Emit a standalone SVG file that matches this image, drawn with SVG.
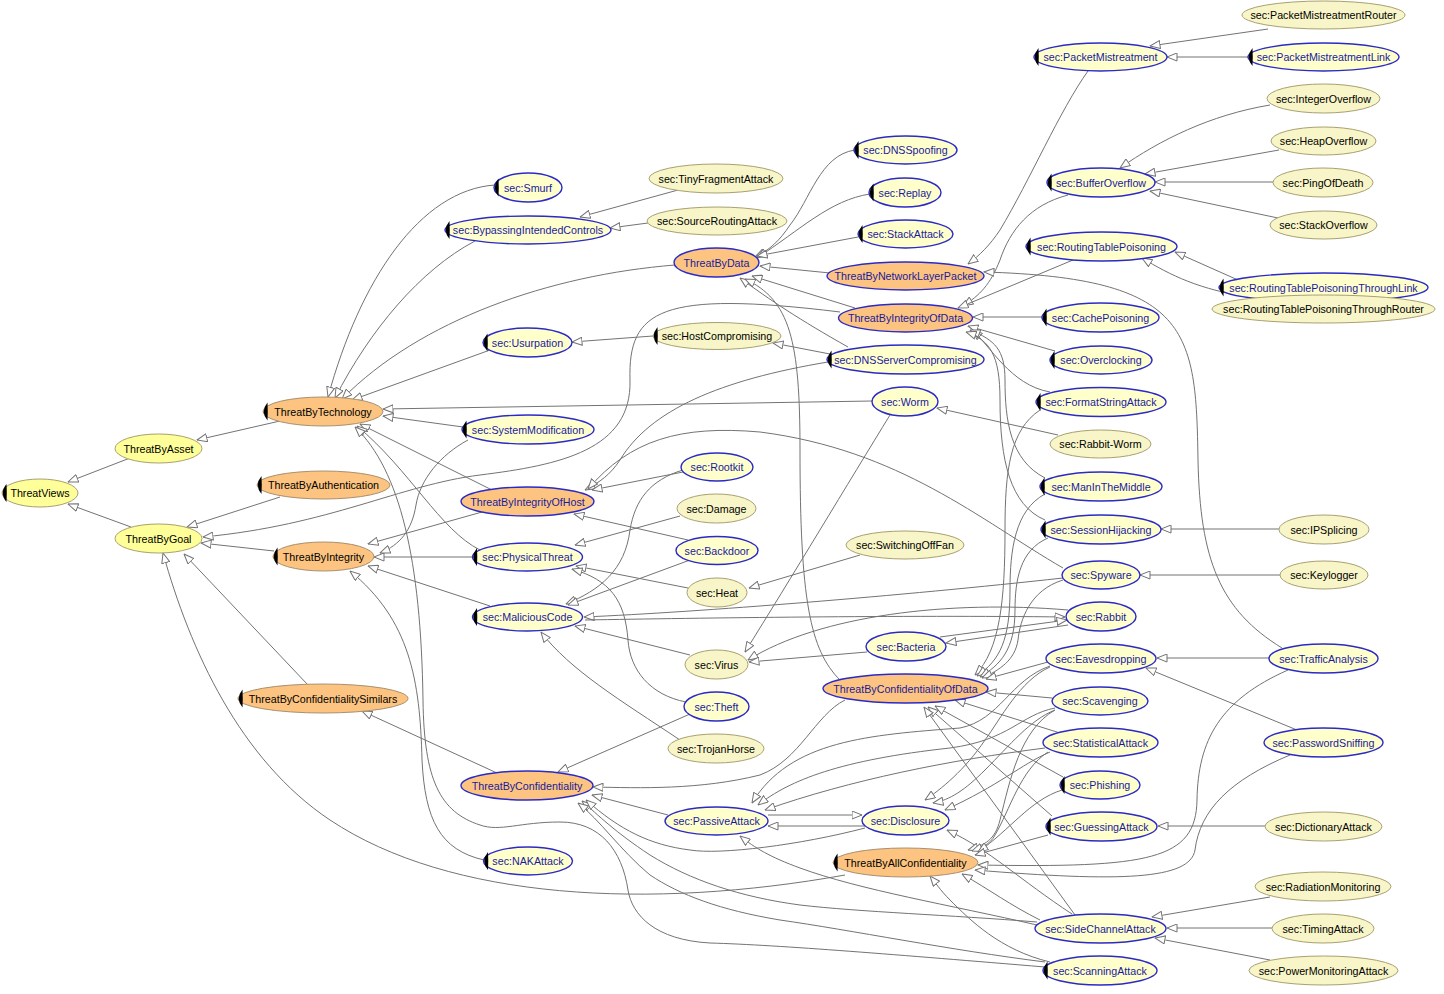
<svg xmlns="http://www.w3.org/2000/svg" width="1444" height="994" viewBox="0 0 1444 994">
<style>
text{font-family:"Liberation Sans",Arial,sans-serif;font-size:10.7px;text-anchor:middle}
.cy ellipse{fill:#ffff99;stroke:#a8a070;stroke-width:1}
.co ellipse{fill:#fcc480;stroke:#a89070;stroke-width:1}
.bo ellipse{fill:#fcc480;stroke:#2a2ac8;stroke-width:1.4}
.bi ellipse{fill:#ffffcc;stroke:#2a2ac8;stroke-width:1.4}
.oi ellipse{fill:#f8f6c8;stroke:#a8a070;stroke-width:1}
.cy text,.co text,.oi text{fill:#000}
.bo text,.bi text{fill:#1a1a9c}
.m{fill:#000}
#edges path{fill:none;stroke:#737373;stroke-width:1;marker-end:url(#a)}
</style>
<defs>
<marker id="a" viewBox="0 0 11 9" refX="10.5" refY="4.5" markerWidth="11" markerHeight="9" markerUnits="userSpaceOnUse" orient="auto">
<path d="M0.5,0.5 L10.5,4.5 L0.5,8.5 Z" fill="#fff" stroke="#737373" stroke-width="1"/>
</marker>
</defs>
<rect width="1444" height="994" fill="#fff"/>
<g id="edges">
<path d="M130 458 L68 482"/>
<path d="M131 527 L68 504"/>
<path d="M280 421 L197 440"/>
<path d="M280 497 L187 527"/>
<path d="M274 551 L201 543"/>
<path d="M840 312 C660 290 628 310 630 380 C632 450 560 465 480 475 C400 485 330 525 203 537"/>
<path d="M308 685 L184 554"/>
<path d="M845 875 C650 910 450 900 330 820 C240 760 190 650 163 553"/>
<path d="M495 185 C420 190 360 280 328 397"/>
<path d="M475 241 C420 270 370 330 335 398"/>
<path d="M675 265 C550 275 420 320 342 399"/>
<path d="M490 350 L352 400"/>
<path d="M872 401 L383 409"/>
<path d="M463 427 L383 416"/>
<path d="M492 490 L360 424"/>
<path d="M480 550 C440 530 410 470 357 426"/>
<path d="M1045 967 C900 955 780 945 710 943 C655 940 632 915 628 890 C622 850 600 822 560 822 C520 822 500 832 480 825 C440 812 424 780 423 700 C421 560 400 470 355 427"/>
<path d="M484 860 C440 850 425 820 422 760 C420 680 410 620 350 571"/>
<path d="M482 512 L368 544"/>
<path d="M472 557 L374 557"/>
<path d="M490 606 L368 566"/>
<path d="M468 440 C440 455 420 480 416 505 C412 530 400 545 380 553"/>
<path d="M653 336 L572 342"/>
<path d="M830 354 L773 343"/>
<path d="M848 347 C800 320 770 300 740 278"/>
<path d="M828 362 C720 380 650 410 620 460 C610 475 600 482 585 490"/>
<path d="M678 190 L580 217"/>
<path d="M648 223 L610 228"/>
<path d="M830 273 L760 266"/>
<path d="M855 308 L752 276"/>
<path d="M855 150 C820 155 810 200 790 225 C780 240 770 250 755 257"/>
<path d="M870 194 C830 200 800 230 757 258"/>
<path d="M858 237 L757 256"/>
<path d="M840 680 C810 650 800 600 800 450 C800 340 790 300 745 279"/>
<path d="M1268 29 L1150 46"/>
<path d="M1249 57 L1167 57"/>
<path d="M1088 71 C1060 110 1030 180 1000 230 C990 245 980 255 968 264"/>
<path d="M1270 105 C1210 115 1160 140 1120 168"/>
<path d="M1279 150 L1145 174"/>
<path d="M1273 182 L1155 182"/>
<path d="M1278 218 L1150 191"/>
<path d="M1068 195 C1030 205 1010 230 1000 260 C990 285 980 295 963 306"/>
<path d="M1238 280 L1175 252"/>
<path d="M1250 297 C1200 290 1170 275 1142 258"/>
<path d="M1073 260 L958 308"/>
<path d="M1042 317 L973 317"/>
<path d="M1055 351 L968 326"/>
<path d="M1050 392 C1010 385 990 345 972 330"/>
<path d="M1045 478 C1010 460 1005 420 1005 380 C1005 350 995 340 970 330"/>
<path d="M1045 520 C1010 505 1000 460 1000 400 C1000 355 990 340 966 332"/>
<path d="M1279 529 L1161 529"/>
<path d="M1280 575 L1140 575"/>
<path d="M1058 435 L937 408"/>
<path d="M1282 648 C1220 610 1200 560 1198 460 C1196 330 1190 278 984 272"/>
<path d="M1040 410 C1010 430 1005 470 1005 530 C1005 600 1000 650 975 675"/>
<path d="M1045 494 C1015 510 1010 550 1010 590 C1010 640 1000 660 977 676"/>
<path d="M1048 538 C1020 550 1015 580 1015 610 C1015 650 1000 665 980 677"/>
<path d="M1063 580 C1030 590 1020 620 1018 640 C1015 660 1000 670 982 678"/>
<path d="M1048 662 L986 679"/>
<path d="M1052 698 L986 692"/>
<path d="M1060 733 L955 700"/>
<path d="M1063 777 L935 706"/>
<path d="M1052 816 L928 707"/>
<path d="M1075 915 L924 707"/>
<path d="M1072 914 C1020 880 990 850 947 830"/>
<path d="M768 815 L862 815"/>
<path d="M865 826 L768 826"/>
<path d="M1050 666 C1010 680 1000 720 960 728 C870 735 790 740 752 803"/>
<path d="M1055 708 C1020 715 1010 740 950 748 C840 760 790 780 758 805"/>
<path d="M1045 748 C950 760 850 780 765 810"/>
<path d="M1050 667 C1020 680 1000 720 985 740 C965 770 940 790 925 800"/>
<path d="M1055 710 C1030 720 1010 745 985 770 C965 790 950 800 933 803"/>
<path d="M1050 752 C1020 765 1000 785 945 810"/>
<path d="M1055 710 C1020 730 1010 780 1000 820 C995 840 985 845 968 850"/>
<path d="M1048 752 C1020 770 1010 810 995 835 C990 845 980 848 972 851"/>
<path d="M1062 790 C1030 800 1010 830 978 852"/>
<path d="M1048 835 L975 855"/>
<path d="M1288 670 C1220 700 1198 740 1197 800 C1196 860 1150 868 978 865"/>
<path d="M1290 755 C1230 780 1200 810 1195 850 C1190 880 1120 882 975 870"/>
<path d="M1040 920 C1010 905 990 890 962 874"/>
<path d="M1050 962 C1000 950 970 920 950 900 C940 890 935 882 930 876"/>
<path d="M1037 925 C950 905 860 890 800 868 C770 857 755 848 740 836"/>
<path d="M1037 922 C950 915 860 912 800 905 C740 897 690 880 650 855 C615 832 598 815 582 801"/>
<path d="M1045 962 C950 950 850 930 780 920 C720 910 680 895 650 875 C620 850 600 820 578 803"/>
<path d="M865 828 C800 845 720 855 690 850 C650 845 620 830 586 800"/>
<path d="M845 700 C815 715 800 760 760 775 C700 790 640 788 593 787"/>
<path d="M668 815 L592 795"/>
<path d="M690 714 L558 772"/>
<path d="M497 773 L362 711"/>
<path d="M683 472 L592 490"/>
<path d="M688 540 L574 514"/>
<path d="M1063 568 C980 520 900 450 760 432 C680 425 630 440 588 489"/>
<path d="M683 470 C650 480 635 500 630 530 C625 570 600 590 566 604"/>
<path d="M690 560 L568 605"/>
<path d="M680 516 L575 545"/>
<path d="M688 588 L576 566"/>
<path d="M860 555 L749 588"/>
<path d="M686 702 C650 695 630 670 628 640 C625 600 610 580 572 569"/>
<path d="M690 655 L575 626"/>
<path d="M680 740 C620 700 570 670 541 632"/>
<path d="M1063 578 C900 596 700 612 584 617"/>
<path d="M585 620 C700 618 900 615 1065 617"/>
<path d="M890 415 C850 480 790 580 745 652"/>
<path d="M1068 610 C950 600 820 615 748 660"/>
<path d="M867 652 L749 662"/>
<path d="M940 637 L1067 620"/>
<path d="M1068 625 L946 643"/>
<path d="M1269 658 L1157 658"/>
<path d="M1297 730 L1146 668"/>
<path d="M1265 826 L1158 826"/>
<path d="M1270 897 L1152 917"/>
<path d="M1272 928 L1167 928"/>
<path d="M1270 960 L1155 938"/>
</g>
<g id="n1" class="cy"><ellipse cx="40" cy="493" rx="38" ry="14"/><path class="m" d="M6.5 484 Q-1 493 6.5 502 Q7 493 6.5 484 Z"/><text x="40" y="497">ThreatViews</text></g>
<g id="n2" class="cy"><ellipse cx="158.5" cy="448.5" rx="43.5" ry="14.5"/><text x="158.5" y="452.5">ThreatByAsset</text></g>
<g id="n3" class="cy"><ellipse cx="158.5" cy="538.5" rx="43.5" ry="14.5"/><text x="158.5" y="542.5">ThreatByGoal</text></g>
<g id="n4" class="co"><ellipse cx="323" cy="411.5" rx="60" ry="14.5"/><path class="m" d="M267.5 402.5 Q260 411.5 267.5 420.5 Q268 411.5 267.5 402.5 Z"/><text x="323" y="415.5">ThreatByTechnology</text></g>
<g id="n5" class="co"><ellipse cx="323.5" cy="485" rx="66.5" ry="14"/><path class="m" d="M261.5 476 Q254 485 261.5 494 Q262 485 261.5 476 Z"/><text x="323.5" y="489">ThreatByAuthentication</text></g>
<g id="n6" class="co"><ellipse cx="323.5" cy="556.5" rx="50.5" ry="14.5"/><path class="m" d="M277.5 547.5 Q270 556.5 277.5 565.5 Q278 556.5 277.5 547.5 Z"/><text x="323.5" y="560.5">ThreatByIntegrity</text></g>
<g id="n7" class="co"><ellipse cx="323" cy="698.5" rx="85" ry="14.5"/><path class="m" d="M242.5 689.5 Q235 698.5 242.5 707.5 Q243 698.5 242.5 689.5 Z"/><text x="323" y="702.5">ThreatByConfidentialitySimilars</text></g>
<g id="n8" class="bo"><ellipse cx="527" cy="785.5" rx="66" ry="14.5"/><text x="527" y="789.5">ThreatByConfidentiality</text></g>
<g id="n9" class="bi"><ellipse cx="528" cy="861" rx="44.5" ry="14"/><path class="m" d="M488 852 Q480.5 861 488 870 Q488.5 861 488 852 Z"/><text x="528" y="865">sec:NAKAttack</text></g>
<g id="n10" class="bi"><ellipse cx="528" cy="187.5" rx="34" ry="14.5"/><path class="m" d="M498.5 178.5 Q491 187.5 498.5 196.5 Q499 187.5 498.5 178.5 Z"/><text x="528" y="191.5">sec:Smurf</text></g>
<g id="n11" class="bi"><ellipse cx="528" cy="230" rx="83" ry="14"/><path class="m" d="M449.5 221 Q442 230 449.5 239 Q450 230 449.5 221 Z"/><text x="528" y="234">sec:BypassingIntendedControls</text></g>
<g id="n12" class="bi"><ellipse cx="527.5" cy="342.5" rx="44.5" ry="14.5"/><path class="m" d="M487.5 333.5 Q480 342.5 487.5 351.5 Q488 342.5 487.5 333.5 Z"/><text x="527.5" y="346.5">sec:Usurpation</text></g>
<g id="n13" class="bi"><ellipse cx="528" cy="429.5" rx="66" ry="14.5"/><path class="m" d="M466.5 420.5 Q459 429.5 466.5 438.5 Q467 429.5 466.5 420.5 Z"/><text x="528" y="433.5">sec:SystemModification</text></g>
<g id="n14" class="bo"><ellipse cx="527.5" cy="501.5" rx="66.5" ry="14.5"/><text x="527.5" y="505.5">ThreatByIntegrityOfHost</text></g>
<g id="n15" class="bi"><ellipse cx="527.5" cy="557" rx="55" ry="14"/><path class="m" d="M477 548 Q469.5 557 477 566 Q477.5 557 477 548 Z"/><text x="527.5" y="561">sec:PhysicalThreat</text></g>
<g id="n16" class="bi"><ellipse cx="527.5" cy="617" rx="55" ry="14"/><path class="m" d="M477 608 Q469.5 617 477 626 Q477.5 617 477 608 Z"/><text x="527.5" y="621">sec:MaliciousCode</text></g>
<g id="n17" class="oi"><ellipse cx="716" cy="178.5" rx="67" ry="14.5"/><text x="716" y="182.5">sec:TinyFragmentAttack</text></g>
<g id="n18" class="oi"><ellipse cx="717" cy="221" rx="70" ry="14"/><text x="717" y="225">sec:SourceRoutingAttack</text></g>
<g id="n19" class="bo"><ellipse cx="716.5" cy="262.5" rx="42.5" ry="14.5"/><text x="716.5" y="266.5">ThreatByData</text></g>
<g id="n20" class="oi"><ellipse cx="717" cy="336" rx="64" ry="13.5"/><path class="m" d="M657.5 327 Q650 336 657.5 345 Q658 336 657.5 327 Z"/><text x="717" y="340">sec:HostCompromising</text></g>
<g id="n21" class="bi"><ellipse cx="717" cy="467" rx="36" ry="14"/><text x="717" y="471">sec:Rootkit</text></g>
<g id="n22" class="oi"><ellipse cx="716.5" cy="508.5" rx="39.5" ry="14.5"/><text x="716.5" y="512.5">sec:Damage</text></g>
<g id="n23" class="bi"><ellipse cx="717" cy="550.5" rx="41" ry="14"/><text x="717" y="554.5">sec:Backdoor</text></g>
<g id="n24" class="oi"><ellipse cx="717" cy="592.5" rx="30" ry="14.5"/><text x="717" y="596.5">sec:Heat</text></g>
<g id="n25" class="oi"><ellipse cx="716.5" cy="664.5" rx="31.5" ry="14.5"/><text x="716.5" y="668.5">sec:Virus</text></g>
<g id="n26" class="bi"><ellipse cx="716.5" cy="706.5" rx="32.5" ry="14.5"/><text x="716.5" y="710.5">sec:Theft</text></g>
<g id="n27" class="oi"><ellipse cx="716" cy="748.5" rx="48" ry="14.5"/><text x="716" y="752.5">sec:TrojanHorse</text></g>
<g id="n28" class="bi"><ellipse cx="716.5" cy="821" rx="51.5" ry="14"/><text x="716.5" y="825">sec:PassiveAttack</text></g>
<g id="n29" class="bi"><ellipse cx="905.5" cy="150" rx="51.5" ry="14"/><path class="m" d="M858.5 141 Q851 150 858.5 159 Q859 150 858.5 141 Z"/><text x="905.5" y="154">sec:DNSSpoofing</text></g>
<g id="n30" class="bi"><ellipse cx="905" cy="192.5" rx="36" ry="14.5"/><path class="m" d="M873.5 183.5 Q866 192.5 873.5 201.5 Q874 192.5 873.5 183.5 Z"/><text x="905" y="196.5">sec:Replay</text></g>
<g id="n31" class="bi"><ellipse cx="905.5" cy="234" rx="47.5" ry="14"/><path class="m" d="M862.5 225 Q855 234 862.5 243 Q863 234 862.5 225 Z"/><text x="905.5" y="238">sec:StackAttack</text></g>
<g id="n32" class="bo"><ellipse cx="905.5" cy="276" rx="78.5" ry="14"/><text x="905.5" y="280">ThreatByNetworkLayerPacket</text></g>
<g id="n33" class="bo"><ellipse cx="905.5" cy="318" rx="67" ry="14"/><text x="905.5" y="322">ThreatByIntegrityOfData</text></g>
<g id="n34" class="bi"><ellipse cx="905.5" cy="359.5" rx="78.5" ry="14.5"/><path class="m" d="M831.5 350.5 Q824 359.5 831.5 368.5 Q832 359.5 831.5 350.5 Z"/><text x="905.5" y="363.5">sec:DNSServerCompromising</text></g>
<g id="n35" class="bi"><ellipse cx="905" cy="401.5" rx="33" ry="14.5"/><text x="905" y="405.5">sec:Worm</text></g>
<g id="n36" class="oi"><ellipse cx="905" cy="545" rx="59" ry="14"/><text x="905" y="549">sec:SwitchingOffFan</text></g>
<g id="n37" class="bi"><ellipse cx="906" cy="646.5" rx="40" ry="14.5"/><text x="906" y="650.5">sec:Bacteria</text></g>
<g id="n38" class="bo"><ellipse cx="905.5" cy="688.5" rx="82.5" ry="14.5"/><text x="905.5" y="692.5">ThreatByConfidentialityOfData</text></g>
<g id="n39" class="bi"><ellipse cx="905.5" cy="820.5" rx="43.5" ry="14.5"/><text x="905.5" y="824.5">sec:Disclosure</text></g>
<g id="n40" class="co"><ellipse cx="905.5" cy="862.5" rx="72.5" ry="14.5"/><path class="m" d="M837.5 853.5 Q830 862.5 837.5 871.5 Q838 862.5 837.5 853.5 Z"/><text x="905.5" y="866.5">ThreatByAllConfidentiality</text></g>
<g id="n41" class="bi"><ellipse cx="1100.5" cy="57" rx="66.5" ry="14"/><path class="m" d="M1038.5 48 Q1031 57 1038.5 66 Q1039 57 1038.5 48 Z"/><text x="1100.5" y="61">sec:PacketMistreatment</text></g>
<g id="n42" class="bi"><ellipse cx="1101" cy="182.5" rx="54" ry="14.5"/><path class="m" d="M1051.5 173.5 Q1044 182.5 1051.5 191.5 Q1052 182.5 1051.5 173.5 Z"/><text x="1101" y="186.5">sec:BufferOverflow</text></g>
<g id="n43" class="bi"><ellipse cx="1101.5" cy="246.5" rx="75.5" ry="14.5"/><path class="m" d="M1030.5 237.5 Q1023 246.5 1030.5 255.5 Q1031 246.5 1030.5 237.5 Z"/><text x="1101.5" y="250.5">sec:RoutingTablePoisoning</text></g>
<g id="n44" class="bi"><ellipse cx="1100.5" cy="317.5" rx="58.5" ry="14.5"/><path class="m" d="M1046.5 308.5 Q1039 317.5 1046.5 326.5 Q1047 317.5 1046.5 308.5 Z"/><text x="1100.5" y="321.5">sec:CachePoisoning</text></g>
<g id="n45" class="bi"><ellipse cx="1101" cy="360" rx="51" ry="14"/><path class="m" d="M1054.5 351 Q1047 360 1054.5 369 Q1055 360 1054.5 351 Z"/><text x="1101" y="364">sec:Overclocking</text></g>
<g id="n46" class="bi"><ellipse cx="1101" cy="402" rx="65" ry="14.5"/><path class="m" d="M1040.5 393 Q1033 402 1040.5 411 Q1041 402 1040.5 393 Z"/><text x="1101" y="406">sec:FormatStringAttack</text></g>
<g id="n47" class="oi"><ellipse cx="1100.5" cy="444" rx="50.5" ry="14"/><text x="1100.5" y="448">sec:Rabbit-Worm</text></g>
<g id="n48" class="bi"><ellipse cx="1101" cy="486.5" rx="61" ry="14.5"/><path class="m" d="M1044.5 477.5 Q1037 486.5 1044.5 495.5 Q1045 486.5 1044.5 477.5 Z"/><text x="1101" y="490.5">sec:ManInTheMiddle</text></g>
<g id="n49" class="bi"><ellipse cx="1101" cy="529.5" rx="60" ry="14.5"/><path class="m" d="M1045.5 520.5 Q1038 529.5 1045.5 538.5 Q1046 529.5 1045.5 520.5 Z"/><text x="1101" y="533.5">sec:SessionHijacking</text></g>
<g id="n50" class="bi"><ellipse cx="1101" cy="575" rx="39" ry="14"/><text x="1101" y="579">sec:Spyware</text></g>
<g id="n51" class="bi"><ellipse cx="1101" cy="616.5" rx="35" ry="14.5"/><text x="1101" y="620.5">sec:Rabbit</text></g>
<g id="n52" class="bi"><ellipse cx="1101" cy="658.5" rx="55" ry="14.5"/><text x="1101" y="662.5">sec:Eavesdropping</text></g>
<g id="n53" class="bi"><ellipse cx="1100" cy="701" rx="48" ry="14"/><text x="1100" y="705">sec:Scavenging</text></g>
<g id="n54" class="bi"><ellipse cx="1100.5" cy="742.5" rx="57.5" ry="14.5"/><text x="1100.5" y="746.5">sec:StatisticalAttack</text></g>
<g id="n55" class="bi"><ellipse cx="1100" cy="785" rx="40" ry="14"/><path class="m" d="M1064.5 776 Q1057 785 1064.5 794 Q1065 785 1064.5 776 Z"/><text x="1100" y="789">sec:Phishing</text></g>
<g id="n56" class="bi"><ellipse cx="1101.5" cy="826.5" rx="55.5" ry="14.5"/><path class="m" d="M1050.5 817.5 Q1043 826.5 1050.5 835.5 Q1051 826.5 1050.5 817.5 Z"/><text x="1101.5" y="830.5">sec:GuessingAttack</text></g>
<g id="n57" class="bi"><ellipse cx="1100.5" cy="928.5" rx="65.5" ry="14.5"/><text x="1100.5" y="932.5">sec:SideChannelAttack</text></g>
<g id="n58" class="bi"><ellipse cx="1100" cy="970.5" rx="57" ry="14.5"/><path class="m" d="M1047.5 961.5 Q1040 970.5 1047.5 979.5 Q1048 970.5 1047.5 961.5 Z"/><text x="1100" y="974.5">sec:ScanningAttack</text></g>
<g id="n59" class="oi"><ellipse cx="1323.5" cy="15" rx="81.5" ry="14"/><text x="1323.5" y="19">sec:PacketMistreatmentRouter</text></g>
<g id="n60" class="bi"><ellipse cx="1323.5" cy="57" rx="75.5" ry="14"/><path class="m" d="M1252.5 48 Q1245 57 1252.5 66 Q1253 57 1252.5 48 Z"/><text x="1323.5" y="61">sec:PacketMistreatmentLink</text></g>
<g id="n61" class="oi"><ellipse cx="1323.5" cy="98.5" rx="56.5" ry="14.5"/><text x="1323.5" y="102.5">sec:IntegerOverflow</text></g>
<g id="n62" class="oi"><ellipse cx="1323.5" cy="141" rx="52.5" ry="14"/><text x="1323.5" y="145">sec:HeapOverflow</text></g>
<g id="n63" class="oi"><ellipse cx="1323" cy="182.5" rx="50" ry="14.5"/><text x="1323" y="186.5">sec:PingOfDeath</text></g>
<g id="n64" class="oi"><ellipse cx="1323.5" cy="225" rx="53.5" ry="14"/><text x="1323.5" y="229">sec:StackOverflow</text></g>
<g id="n65" class="bi"><ellipse cx="1323.5" cy="287.5" rx="104.5" ry="14.5"/><path class="m" d="M1223.5 278.5 Q1216 287.5 1223.5 296.5 Q1224 287.5 1223.5 278.5 Z"/><text x="1323.5" y="291.5">sec:RoutingTablePoisoningThroughLink</text></g>
<g id="n66" class="oi"><ellipse cx="1323.5" cy="309" rx="111.5" ry="14"/><text x="1323.5" y="313">sec:RoutingTablePoisoningThroughRouter</text></g>
<g id="n67" class="oi"><ellipse cx="1324" cy="529.5" rx="45" ry="14.5"/><text x="1324" y="533.5">sec:IPSplicing</text></g>
<g id="n68" class="oi"><ellipse cx="1324" cy="575" rx="44" ry="14"/><text x="1324" y="579">sec:Keylogger</text></g>
<g id="n69" class="bi"><ellipse cx="1323.5" cy="658.5" rx="54.5" ry="14.5"/><text x="1323.5" y="662.5">sec:TrafficAnalysis</text></g>
<g id="n70" class="bi"><ellipse cx="1323.5" cy="742.5" rx="59.5" ry="14.5"/><text x="1323.5" y="746.5">sec:PasswordSniffing</text></g>
<g id="n71" class="oi"><ellipse cx="1323.5" cy="826.5" rx="58.5" ry="14.5"/><text x="1323.5" y="830.5">sec:DictionaryAttack</text></g>
<g id="n72" class="oi"><ellipse cx="1323" cy="886.5" rx="68" ry="14.5"/><text x="1323" y="890.5">sec:RadiationMonitoring</text></g>
<g id="n73" class="oi"><ellipse cx="1323" cy="928.5" rx="51" ry="14.5"/><text x="1323" y="932.5">sec:TimingAttack</text></g>
<g id="n74" class="oi"><ellipse cx="1323.5" cy="970.5" rx="74.5" ry="14.5"/><text x="1323.5" y="974.5">sec:PowerMonitoringAttack</text></g>
</svg>
